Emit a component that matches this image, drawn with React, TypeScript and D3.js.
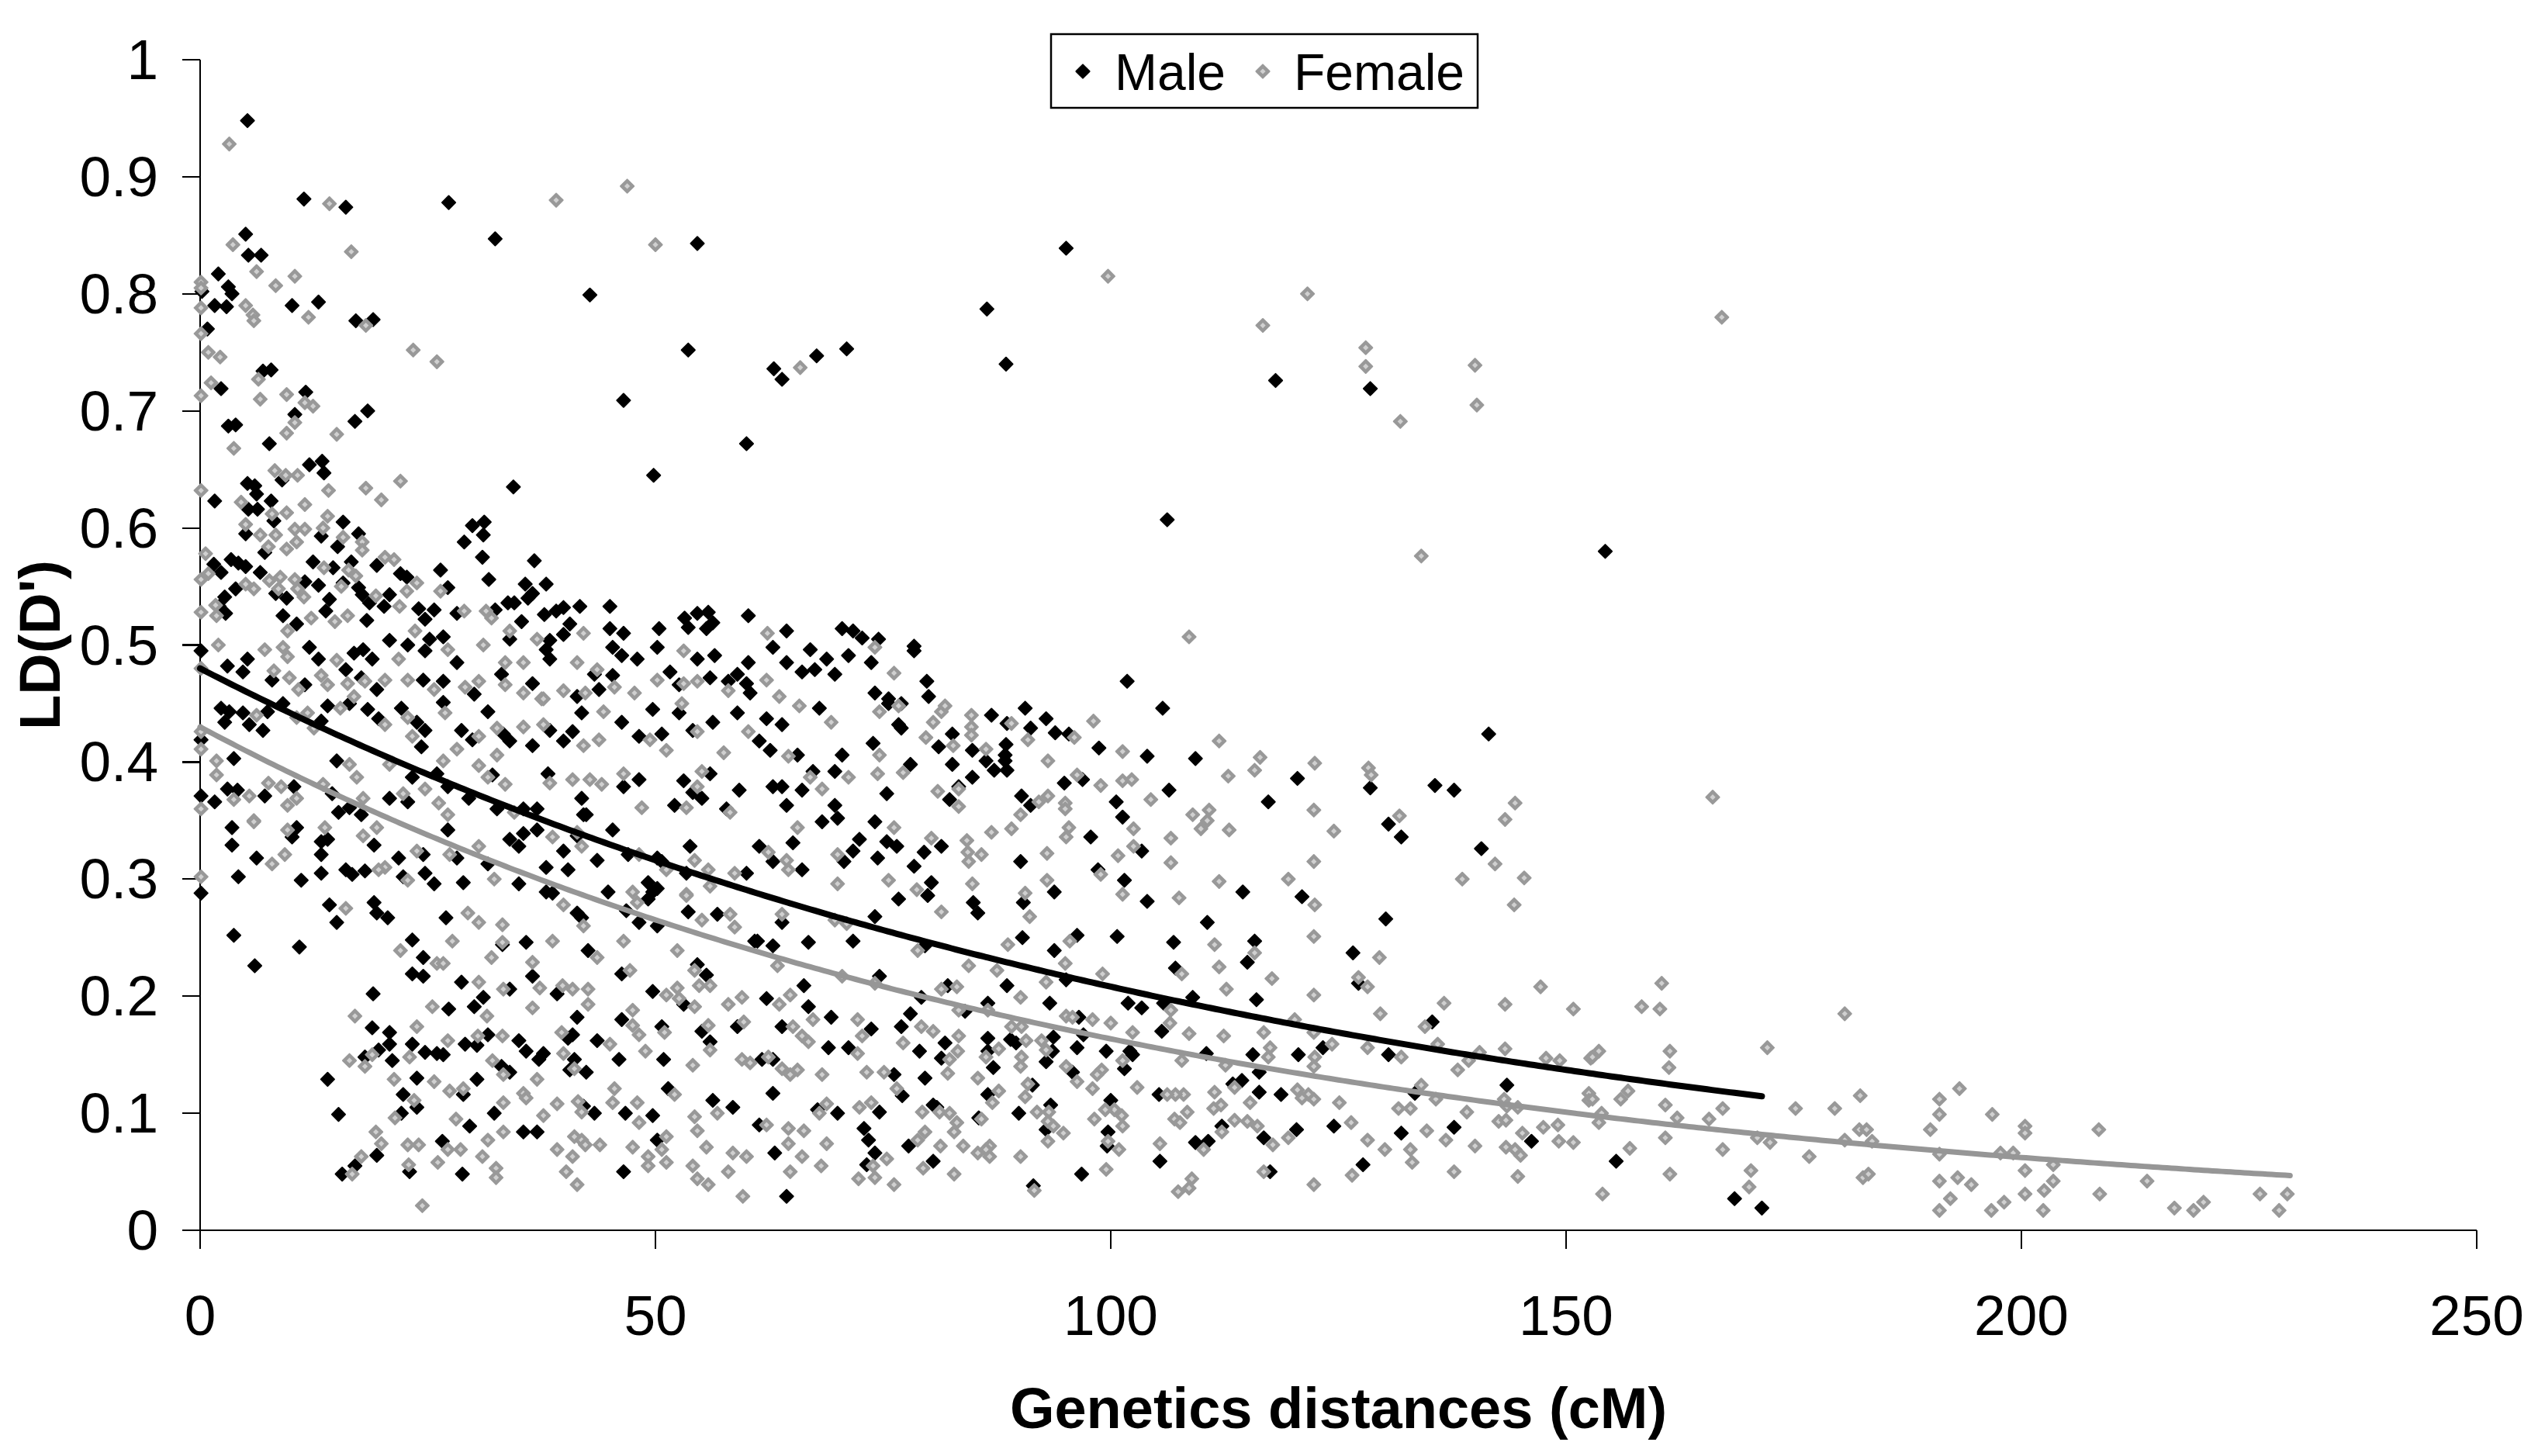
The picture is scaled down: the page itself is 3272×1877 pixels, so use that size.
import React from "react";
import * as d3 from "d3";

// ---------- DATA ----------
const xTicks = [0, 50, 100, 150, 200, 250];
const yTicks = [0, 0.1, 0.2, 0.3, 0.4, 0.5, 0.6, 0.7, 0.8, 0.9, 1];
const yTickLabels = ["0", "0.1", "0.2", "0.3", "0.4", "0.5", "0.6", "0.7", "0.8", "0.9", "1"];
const seriesNames = ["Male", "Female"];

// Fitted exponential trend lines  y = a * exp(-b x), drawn from 0 to xMax
const maleTrend = { a: 0.48, b: 0.008357, xMax: 171.5 };
const femaleTrend = { a: 0.43, b: 0.009667, xMax: 229.5 };

const malePoints: [number, number][] = [
[5.2,0.948],[11.4,0.881],[16.0,0.874],[27.3,0.878],[32.4,0.847],[54.6,0.843],[5.0,0.851],[5.3,0.833],[6.7,0.833],[2.0,0.817],[3.1,0.806],[3.5,0.80],[0.2,0.802],[1.6,0.79],[2.9,0.789],[10.1,0.79],[13.0,0.793],[17.1,0.777],[19.0,0.778],[42.8,0.799],[0.8,0.77],[53.6,0.752],[63.0,0.736],[63.9,0.727],[67.7,0.747],[71.0,0.753],[46.5,0.709],[6.9,0.734],[7.8,0.735],[2.3,0.719],[11.6,0.716],[10.4,0.697],[3.1,0.687],[3.9,0.688],[7.6,0.672],[17.0,0.691],[18.4,0.70],[60.0,0.672],[49.8,0.645],[34.4,0.635],[12.0,0.654],[13.4,0.657],[13.6,0.647],[9.0,0.641],[5.2,0.638],[6.0,0.636],[6.2,0.629],[1.6,0.623],[7.8,0.623],[5.3,0.616],[6.3,0.616],[8.1,0.606],[5.0,0.595],[13.3,0.593],[15.7,0.605],[17.4,0.595],[15.1,0.584],[7.1,0.579],[29.9,0.602],[31.2,0.605],[29.0,0.588],[31.1,0.594],[31.0,0.575],[36.7,0.572],[26.4,0.564],[31.7,0.556],[35.7,0.552],[38.0,0.552],[27.2,0.549],[19.4,0.568],[22.0,0.561],[22.7,0.558],[3.4,0.573],[4.2,0.57],[5.0,0.567],[1.5,0.569],[2.3,0.562],[6.6,0.562],[3.9,0.548],[12.4,0.571],[14.6,0.566],[16.6,0.571],[11.5,0.554],[13.0,0.551],[15.7,0.553],[17.4,0.549],[17.8,0.543],[2.7,0.541],[2.1,0.533],[2.8,0.527],[8.3,0.544],[9.5,0.54],[14.2,0.539],[18.6,0.536],[20.8,0.543],[20.2,0.533],[24.0,0.531],[25.7,0.53],[24.7,0.522],[28.2,0.527],[32.4,0.53],[33.8,0.536],[34.5,0.536],[36.0,0.54],[36.5,0.544],[35.3,0.52],[37.8,0.526],[39.1,0.529],[39.9,0.532],[41.7,0.533],[45.0,0.533],[40.6,0.518],[45.0,0.514],[46.5,0.51],[50.4,0.514],[53.2,0.523],[54.6,0.527],[55.8,0.528],[56.3,0.519],[60.2,0.525],[64.4,0.512],[70.5,0.514],[71.7,0.512],[72.7,0.506],[74.5,0.505],[53.6,0.515],[55.6,0.514],[9.1,0.525],[10.6,0.518],[13.8,0.529],[18.3,0.521],[20.8,0.504],[25.2,0.505],[26.7,0.507],[34.0,0.505],[38.4,0.504],[39.9,0.509],
[95.1,0.839],[86.4,0.787],[88.5,0.74],[118.1,0.726],[128.5,0.719],[106.2,0.607],[154.3,0.58],[78.4,0.499],
[0.1,0.495],[5.2,0.488],[12.0,0.498],[13.0,0.488],[16.9,0.493],[17.9,0.496],[18.9,0.488],[22.8,0.5],[24.7,0.495],[28.2,0.485],[38.0,0.496],[38.4,0.488],[45.3,0.498],[46.3,0.491],[48.0,0.488],[50.2,0.498],[54.6,0.488],[56.5,0.491],[60.2,0.485],[62.9,0.498],[64.4,0.485],[67.0,0.496],[68.8,0.488],[71.2,0.491],[73.7,0.485],
[3.0,0.482],[4.7,0.477],[7.9,0.47],[11.5,0.466],[16.0,0.479],[17.7,0.472],[19.4,0.462],[24.5,0.47],[26.7,0.469],[30.1,0.458],[33.1,0.475],[36.5,0.467],[41.4,0.456],[43.3,0.475],[43.8,0.462],[45.3,0.474],[51.6,0.477],[52.6,0.466],[56.0,0.472],[58.0,0.469],[59.0,0.475],[60.0,0.467],[60.4,0.459],[66.1,0.477],[67.5,0.479],[69.7,0.475],[74.1,0.459],[75.6,0.454],
[2.3,0.446],[3.2,0.443],[2.7,0.434],[0.1,0.419],[4.7,0.442],[5.4,0.432],[6.9,0.427],[7.4,0.443],[9.1,0.45],[13.3,0.435],[14.0,0.448],[16.4,0.45],[18.4,0.445],[19.6,0.437],[22.1,0.446],[23.8,0.434],[24.7,0.427],[24.3,0.413],[26.7,0.451],[28.7,0.427],[29.9,0.419],[31.6,0.443],[33.3,0.424],[34.0,0.418],[36.5,0.414],[38.4,0.427],[39.9,0.418],[40.9,0.426],[41.9,0.442],[46.3,0.434],[48.2,0.422],[50.7,0.424],[49.7,0.445],[52.6,0.442],[54.1,0.427],[56.3,0.434],[59.0,0.442],[62.2,0.437],[63.9,0.432],[68.0,0.446],[61.4,0.418],[62.6,0.41],[65.6,0.406],[75.6,0.45],[73.9,0.416],[70.5,0.406],
[3.7,0.403],[0.1,0.371],[1.6,0.366],[3.0,0.377],[4.1,0.376],[7.1,0.371],[10.3,0.379],[15.0,0.401],[14.5,0.373],[15.2,0.357],[16.4,0.361],[17.7,0.355],[20.8,0.369],[22.8,0.366],[23.3,0.387],[26.0,0.39],[27.2,0.379],[29.5,0.369],[32.1,0.389],[32.6,0.36],[35.5,0.36],[37.0,0.36],[38.2,0.39],[41.9,0.369],[42.4,0.355],[46.5,0.379],[48.2,0.385],[52.1,0.363],[53.1,0.384],[54.1,0.374],[55.1,0.369],[56.0,0.39],[57.8,0.36],[59.2,0.376],[62.9,0.379],[63.9,0.379],[64.4,0.363],[66.1,0.376],[67.3,0.392],[69.7,0.392],[69.7,0.363],[75.4,0.373],
[3.5,0.344],[3.5,0.329],[10.6,0.344],[10.1,0.336],[6.2,0.318],[4.2,0.302],[11.1,0.299],[13.3,0.332],[14.0,0.334],[13.3,0.321],[13.3,0.305],[16.0,0.308],[16.7,0.304],[19.1,0.329],[21.8,0.318],[18.1,0.307],[22.3,0.302],[24.7,0.305],[25.7,0.296],[24.5,0.321],[27.2,0.342],[28.2,0.318],[28.9,0.297],[31.6,0.313],[34.0,0.334],[35.0,0.328],[35.5,0.339],[37.0,0.342],[39.9,0.324],[41.4,0.337],[42.1,0.355],[43.6,0.316],[40.4,0.308],[38.0,0.31],[45.3,0.342],[47.0,0.321],[50.2,0.318],[50.7,0.315],[53.4,0.305],[53.8,0.328],[49.2,0.297],[50.2,0.292],[60.0,0.305],[61.4,0.328],[62.9,0.315],[65.1,0.331],[66.1,0.308],[70.7,0.315],[71.7,0.324],[72.4,0.334],[74.4,0.318],[74.1,0.349],[68.3,0.349],[70.0,0.352],[75.4,0.332],
[0.1,0.288],[14.2,0.278],[15.0,0.263],[19.1,0.28],[19.4,0.271],[20.6,0.267],[27.0,0.267],[35.0,0.296],[38.0,0.289],[38.7,0.288],[41.4,0.271],[41.9,0.267],[44.8,0.289],[46.8,0.273],[48.2,0.263],[50.2,0.26],[49.2,0.283],[49.7,0.289],[53.6,0.272],[56.8,0.27],[60.9,0.247],[63.9,0.263],[66.8,0.246],[71.7,0.247],[74.1,0.268],[3.7,0.252],[10.9,0.242],[6.0,0.226],[23.3,0.248],[24.5,0.233],[23.3,0.219],[24.5,0.217],[33.2,0.244],[35.8,0.246],[42.6,0.239],[54.6,0.227],[55.6,0.218],[61.2,0.247],[62.9,0.243],[66.3,0.209],[74.6,0.217],[46.3,0.219],[36.5,0.217],[39.2,0.202],[28.7,0.212],[34.0,0.206],
[19.0,0.202],[18.9,0.173],[20.8,0.169],[23.3,0.159],[20.8,0.159],[19.6,0.154],[18.1,0.148],[21.1,0.145],[24.7,0.152],[26.0,0.151],[26.7,0.15],[27.3,0.189],[30.1,0.191],[31.1,0.199],[29.1,0.159],[30.4,0.158],[31.6,0.167],[35.0,0.162],[35.8,0.153],[37.7,0.151],[37.2,0.146],[33.1,0.14],[34.0,0.135],[41.4,0.182],[40.4,0.164],[40.9,0.167],[43.6,0.162],[41.1,0.146],[40.6,0.137],[42.4,0.135],[46.0,0.146],[46.3,0.18],[49.7,0.204],[53.1,0.193],[59.0,0.174],[50.7,0.174],[55.1,0.17],[56.0,0.161],[50.9,0.146],[62.2,0.198],[66.8,0.191],[69.3,0.182],[63.9,0.174],[69.0,0.156],[71.2,0.156],[73.7,0.172],[62.9,0.146],[61.7,0.146],
[14.0,0.129],[15.2,0.099],[15.6,0.048],[17.0,0.055],[19.4,0.064],[22.1,0.10],[22.3,0.116],[23.8,0.105],[23.8,0.13],[23.0,0.05],[26.6,0.076],[28.8,0.048],[28.9,0.116],[30.4,0.129],[29.6,0.089],[32.3,0.10],[35.5,0.084],[37.0,0.084],[42.1,0.106],[43.3,0.10],[46.7,0.10],[46.5,0.05],[49.7,0.098],[50.2,0.077],[51.4,0.121],[56.3,0.111],[58.5,0.105],[61.4,0.09],[62.9,0.117],[63.1,0.066],[64.4,0.029],[67.8,0.103],[70.0,0.10],[74.6,0.101],[72.9,0.087],[73.4,0.077],[74.1,0.066],[73.2,0.056],
[78.4,0.495],[79.8,0.469],[80.0,0.456],[77.0,0.45],[76.7,0.432],[77.0,0.429],[81.1,0.413],[82.6,0.424],[78.0,0.398],[82.6,0.398],[83.3,0.379],[82.3,0.368],[84.8,0.41],[86.9,0.44],[84.8,0.387],[86.3,0.401],[87.2,0.393],[88.5,0.415],[88.4,0.406],[88.4,0.401],[88.6,0.393],[88.6,0.433],[90.6,0.446],[91.2,0.429],[92.9,0.437],[93.9,0.425],[95.4,0.424],[98.7,0.412],[94.9,0.382],[96.9,0.385],[90.2,0.371],[91.2,0.363],[76.5,0.328],[79.5,0.323],[78.4,0.311],[81.4,0.328],[80.3,0.297],[79.9,0.286],[76.7,0.283],[84.9,0.28],[85.4,0.271],[90.1,0.315],[90.4,0.28],[93.8,0.289],[97.8,0.336],[98.6,0.308],[101.5,0.299],[101.8,0.469],[105.7,0.446],[104.0,0.405],[100.6,0.366],[101.3,0.353],[106.4,0.376],[103.4,0.324],[104.0,0.281],[109.3,0.403],[114.5,0.289],[117.3,0.366],[120.5,0.386],[121.0,0.285],[110.6,0.263],[115.8,0.247],[115.0,0.229],[106.9,0.246],[107.1,0.224],[100.7,0.251],[96.3,0.252],[93.8,0.239],[90.3,0.25],[79.6,0.243],[82.1,0.209],[79.2,0.199],[88.6,0.209],[95.1,0.214],[101.9,0.194],[103.4,0.19],[93.3,0.194],[86.5,0.194],[84.0,0.187],[78.0,0.185],[77.0,0.174],[79.0,0.153],[81.8,0.16],[81.4,0.147],[79.6,0.13],[86.5,0.164],[86.5,0.153],[87.1,0.139],[89.0,0.163],[89.6,0.16],[93.7,0.165],[93.6,0.153],[92.9,0.144],[96.5,0.182],[95.8,0.135],[96.3,0.156],[97.0,0.167],[99.5,0.153],[101.5,0.138],[102.1,0.153],[102.4,0.15],[105.6,0.17],[105.8,0.194],[109.0,0.199],[110.5,0.151],[116.0,0.197],[115.6,0.15],[116.3,0.135],[120.6,0.15],[123.3,0.156],[126.6,0.237],[127.2,0.211],[130.2,0.266],[130.5,0.347],[131.9,0.336],[128.5,0.378],[135.6,0.38],[137.7,0.376],[141.5,0.424],[140.7,0.326],[135.3,0.178],[130.5,0.15],[143.5,0.124],[133.4,0.117],[137.7,0.088],[131.9,0.083],[146.2,0.076],[127.7,0.056],[124.5,0.089],[118.7,0.116],[120.4,0.086],[116.8,0.079],[117.5,0.05],[116.3,0.118],[114.4,0.128],[113.4,0.125],[112.2,0.089],[109.3,0.075],[110.7,0.076],[105.3,0.116],[105.4,0.059],[100.0,0.111],[99.7,0.084],[99.6,0.072],[96.8,0.048],[91.4,0.124],[86.5,0.116],[85.5,0.096],[89.9,0.10],[93.4,0.107],[92.9,0.086],[91.5,0.038],[80.5,0.059],[77.8,0.072],[80.5,0.107],[80.9,0.105],[77.1,0.115],[76.2,0.133],
[155.5,0.059],[168.5,0.027],[171.5,0.019]
];

const femalePoints: [number, number][] = [
[3.2,0.928],[14.2,0.877],[39.1,0.880],[46.9,0.892],[50.0,0.842],[3.6,0.842],[16.6,0.836],[6.2,0.819],[10.4,0.815],[8.3,0.807],[0.1,0.81],[0.1,0.805],[0.1,0.788],[5.0,0.79],[5.8,0.782],[5.9,0.777],[11.9,0.78],[18.2,0.773],[0.1,0.766],[0.9,0.75],[2.2,0.746],[23.4,0.752],[26.0,0.742],[65.9,0.737],[6.4,0.727],[1.2,0.724],[0.1,0.713],[6.6,0.71],[9.5,0.714],[11.5,0.707],[12.4,0.704],[10.4,0.69],[9.5,0.681],[3.7,0.668],[15.0,0.68],[8.2,0.649],[9.4,0.645],[10.7,0.645],[22.0,0.64],[18.2,0.634],[19.9,0.624],[14.1,0.632],[0.1,0.632],[4.5,0.622],[11.5,0.62],[7.9,0.612],[9.5,0.613],[5.0,0.603],[6.6,0.594],[8.3,0.594],[10.4,0.599],[11.5,0.599],[10.6,0.588],[14.0,0.61],[13.5,0.60],[15.7,0.592],[17.8,0.588],[17.8,0.581],[7.5,0.584],[9.5,0.582],[0.6,0.578],[26.4,0.546],[20.3,0.575],[21.3,0.573],[23.8,0.553],[0.9,0.561],[0.1,0.556],[5.0,0.552],[5.9,0.548],[13.6,0.566],[16.3,0.564],[17.1,0.559],[8.8,0.558],[7.6,0.555],[10.4,0.556],[8.6,0.548],[10.7,0.548],[15.5,0.55],[1.7,0.534],[0.1,0.528],[1.8,0.525],[11.4,0.541],[19.3,0.542],[21.9,0.533],[22.7,0.546],[29.0,0.529],[31.4,0.529],[32.0,0.523],[42.1,0.51],[62.3,0.51],[9.6,0.512],[12.2,0.523],[14.8,0.52],[16.2,0.525],[23.6,0.512],[34.0,0.512],[37.0,0.505],
[99.7,0.815],[121.6,0.80],[167.1,0.78],[116.7,0.773],[128.0,0.754],[128.0,0.738],[140.0,0.739],[140.2,0.705],[131.8,0.691],[134.1,0.576],[108.6,0.507],
[2.0,0.5],[7.1,0.496],[9.1,0.498],[9.6,0.49],[15.0,0.487],[21.8,0.488],[27.2,0.496],[31.1,0.5],[33.5,0.485],[35.5,0.485],[41.4,0.485],[53.1,0.495],[74.1,0.498],
[0.1,0.48],[8.1,0.478],[9.8,0.472],[10.8,0.462],[13.3,0.474],[14.0,0.466],[16.2,0.467],[18.1,0.469],[20.3,0.47],[22.8,0.47],[25.7,0.462],[29.1,0.464],[30.6,0.469],[33.5,0.466],[35.5,0.459],[37.5,0.454],[39.9,0.461],[42.3,0.459],[43.6,0.479],[45.5,0.464],[47.7,0.459],[50.2,0.47],[53.1,0.467],[54.6,0.469],[62.2,0.47],[58.0,0.461],[63.6,0.456],
[0.1,0.426],[0.1,0.411],[6.2,0.44],[10.6,0.438],[11.8,0.442],[12.5,0.429],[15.4,0.446],[16.9,0.456],[20.3,0.432],[22.8,0.438],[23.3,0.422],[26.9,0.442],[28.2,0.411],[30.6,0.422],[32.6,0.429],[32.6,0.406],[35.5,0.43],[37.7,0.454],[37.7,0.432],[42.1,0.414],[43.8,0.419],[44.3,0.443],[49.4,0.419],[51.2,0.41],[52.9,0.45],[54.6,0.426],[57.5,0.408],[60.2,0.426],[65.8,0.448],[69.3,0.434],[64.6,0.405],[74.6,0.443],[74.6,0.406],
[1.8,0.401],[1.8,0.389],[0.1,0.36],[3.7,0.368],[5.4,0.371],[5.9,0.35],[7.5,0.382],[8.9,0.379],[9.6,0.363],[10.6,0.369],[16.4,0.398],[17.2,0.387],[13.5,0.381],[17.9,0.369],[20.8,0.398],[22.3,0.373],[24.7,0.377],[26.7,0.401],[26.2,0.365],[27.2,0.355],[30.6,0.397],[31.6,0.387],[33.5,0.381],[34.5,0.357],[38.4,0.382],[40.9,0.385],[42.8,0.385],[44.1,0.381],[46.5,0.39],[48.5,0.361],[53.4,0.361],[54.6,0.379],[55.1,0.392],[58.2,0.357],[67.0,0.387],[68.3,0.377],[71.2,0.387],[74.4,0.39],
[5.9,0.349],[9.6,0.342],[9.3,0.321],[7.9,0.313],[13.7,0.344],[17.9,0.337],[19.4,0.344],[20.3,0.31],[19.6,0.308],[22.8,0.299],[23.8,0.324],[27.4,0.321],[30.6,0.328],[32.3,0.30],[38.7,0.336],[41.9,0.328],[41.4,0.34],[48.2,0.321],[51.2,0.308],[54.3,0.316],[55.8,0.308],[58.7,0.305],[62.4,0.323],[64.4,0.316],[64.6,0.308],[70.0,0.321],[65.6,0.344],[75.6,0.299],[70.0,0.296],[56.0,0.294],[53.4,0.287],
[0.1,0.302],[16.0,0.275],[29.4,0.271],[30.6,0.263],[39.9,0.278],[42.1,0.26],[47.5,0.289],[48.0,0.28],[53.4,0.286],[55.1,0.265],[58.2,0.27],[58.7,0.259],[63.9,0.27],[69.7,0.265],[71.0,0.262],[22.0,0.239],[27.7,0.247],[26.0,0.228],[26.7,0.228],[33.2,0.261],[33.2,0.246],[38.7,0.247],[32.0,0.233],[43.6,0.233],[36.5,0.229],[46.5,0.247],[52.4,0.239],[54.3,0.222],[63.4,0.226],[70.5,0.217],[74.1,0.211],[47.2,0.222],[33.3,0.206],[37.3,0.207],[39.8,0.209],[40.9,0.206],[42.6,0.206],[30.6,0.212],
[17.0,0.183],[23.8,0.174],[18.9,0.15],[16.4,0.145],[18.1,0.14],[23.0,0.148],[25.5,0.191],[31.5,0.183],[27.2,0.162],[30.5,0.166],[33.2,0.166],[32.1,0.145],[33.3,0.133],[36.5,0.19],[42.6,0.193],[39.7,0.169],[39.9,0.151],[41.1,0.138],[37.0,0.129],[45.0,0.159],[47.5,0.188],[47.5,0.175],[48.2,0.167],[48.9,0.153],[51.2,0.201],[52.4,0.207],[52.6,0.198],[54.3,0.191],[54.8,0.209],[56.0,0.209],[59.5,0.199],[58.0,0.193],[59.7,0.178],[51.0,0.169],[55.8,0.175],[56.0,0.154],[54.1,0.141],[63.6,0.193],[64.8,0.201],[67.3,0.18],[65.1,0.174],[66.1,0.166],[66.8,0.161],[72.2,0.18],[72.7,0.166],[72.2,0.151],[62.4,0.148],[63.9,0.138],[64.8,0.133],[65.6,0.137],[68.3,0.133],[73.2,0.135],[75.1,0.135],[59.5,0.146],[60.4,0.143],
[16.7,0.048],[17.7,0.063],[19.3,0.084],[19.9,0.074],[21.4,0.096],[23.5,0.111],[21.3,0.129],[25.7,0.127],[22.8,0.073],[24.0,0.073],[22.9,0.056],[24.4,0.021],[26.1,0.058],[27.2,0.069],[28.6,0.069],[27.4,0.119],[28.9,0.121],[28.1,0.095],[31.0,0.063],[31.6,0.077],[32.5,0.053],[32.5,0.045],[33.3,0.109],[33.3,0.084],[35.5,0.117],[35.8,0.113],[37.7,0.098],[39.2,0.108],[39.2,0.069],[40.2,0.05],[40.9,0.063],[41.1,0.08],[41.9,0.077],[42.3,0.073],[41.4,0.039],[41.5,0.11],[41.9,0.101],[43.9,0.073],[45.3,0.109],[45.5,0.121],[48.0,0.109],[48.2,0.092],[47.5,0.071],[49.2,0.063],[49.2,0.055],[50.7,0.069],[51.2,0.08],[51.2,0.058],[52.1,0.116],[54.3,0.097],[54.6,0.085],[54.1,0.055],[54.6,0.044],[55.8,0.039],[55.6,0.071],[56.8,0.10],[60.0,0.063],[58.5,0.066],[58.0,0.05],[59.6,0.029],[62.2,0.09],[64.6,0.087],[64.6,0.074],[66.3,0.085],[66.1,0.063],[64.8,0.05],[68.0,0.10],[68.8,0.108],[68.8,0.074],[68.2,0.055],[72.4,0.105],[73.7,0.109],[73.9,0.055],[74.1,0.045],[72.3,0.044],[75.4,0.061],
[76.2,0.476],[76.7,0.448],[81.4,0.443],[81.8,0.448],[80.5,0.434],[79.7,0.421],[82.7,0.414],[77.2,0.391],[83.3,0.377],[81.0,0.375],[83.3,0.362],[84.7,0.44],[84.7,0.43],[84.7,0.423],[86.3,0.411],[89.1,0.433],[90.9,0.419],[96.0,0.421],[98.1,0.435],[93.1,0.401],[96.3,0.389],[98.9,0.38],[92.1,0.366],[93.1,0.371],[95.0,0.365],[95.0,0.36],[90.1,0.355],[89.1,0.343],[86.9,0.34],[76.2,0.344],[80.3,0.335],[84.2,0.333],[84.3,0.323],[84.4,0.315],[85.8,0.321],[78.7,0.291],[81.4,0.272],[84.8,0.296],[90.6,0.288],[91.1,0.268],[93.0,0.322],[93.0,0.299],[95.4,0.344],[95.1,0.336],[98.9,0.304],[100.8,0.32],[101.3,0.287],[101.3,0.409],[101.3,0.384],[102.3,0.385],[102.5,0.343],[104.4,0.368],[106.6,0.335],[102.5,0.328],[106.6,0.314],[107.5,0.284],[111.9,0.418],[109.0,0.355],[110.8,0.359],[110.6,0.35],[109.9,0.343],[113.0,0.342],[112.9,0.388],[115.8,0.393],[116.4,0.404],[111.9,0.298],[122.4,0.399],[122.3,0.359],[124.5,0.341],[122.3,0.315],[119.5,0.30],[122.4,0.278],[122.3,0.251],[111.4,0.244],[115.8,0.237],[111.9,0.225],[107.8,0.219],[95.5,0.247],[95.0,0.228],[88.7,0.244],[87.5,0.222],[84.4,0.226],[78.8,0.239],[83.1,0.208],[81.4,0.206],[90.1,0.199],[92.9,0.212],[99.1,0.219],[83.3,0.188],[86.5,0.188],[79.2,0.174],[80.5,0.17],[77.2,0.16],[83.3,0.166],[83.2,0.153],[82.3,0.146],[82.1,0.134],[85.4,0.13],[86.3,0.148],[87.7,0.155],[89.1,0.174],[90.2,0.174],[90.7,0.162],[90.2,0.148],[90.1,0.14],[92.4,0.162],[92.9,0.154],[95.1,0.183],[95.8,0.182],[95.1,0.14],[98.0,0.18],[100.0,0.177],[99.0,0.137],[98.5,0.133],[101.3,0.145],[102.4,0.169],[106.5,0.177],[106.6,0.188],[108.6,0.168],[107.8,0.145],[112.6,0.141],[112.4,0.166],[112.7,0.206],[116.8,0.169],[117.5,0.156],[117.3,0.148],[120.2,0.18],[122.3,0.169],[122.4,0.148],[122.3,0.14],[124.3,0.159],[117.7,0.215],[122.3,0.201],[129.5,0.233],[127.2,0.216],[128.2,0.208],[129.6,0.185],[131.7,0.354],[128.3,0.395],[128.6,0.389],[144.4,0.365],[143.3,0.351],[142.2,0.313],[138.6,0.30],[145.4,0.301],[144.3,0.278],[136.6,0.194],[134.5,0.174],[135.9,0.159],[131.9,0.148],[128.2,0.156],[138.1,0.137],[139.3,0.145],[140.5,0.152],[143.3,0.193],[143.3,0.155],[147.2,0.208],[150.8,0.189],[147.8,0.147],[149.3,0.145],[152.7,0.147],[134.1,0.124],[135.7,0.112],[139.1,0.101],[143.2,0.112],[143.5,0.106],[144.7,0.105],[134.7,0.085],[132.9,0.069],[133.1,0.058],[136.8,0.077],[140.0,0.072],[145.2,0.083],[143.4,0.071],[144.4,0.069],[145.0,0.064],[147.5,0.088],[149.1,0.09],[149.2,0.076],[150.8,0.075],[137.7,0.05],[144.7,0.046],[126.5,0.047],[128.2,0.077],[130.1,0.069],[131.6,0.104],[132.9,0.104],[125.1,0.109],[126.4,0.092],[120.5,0.12],[121.7,0.116],[122.3,0.112],[121.0,0.113],[119.5,0.079],[117.8,0.073],[116.8,0.05],[122.3,0.039],[115.3,0.109],[116.1,0.089],[115.0,0.093],[113.6,0.122],[113.6,0.094],[112.2,0.084],[111.4,0.118],[112.1,0.107],[111.3,0.104],[110.2,0.069],[108.9,0.044],[107.4,0.033],[108.6,0.036],[108.0,0.116],[107.1,0.116],[106.2,0.116],[108.4,0.101],[107.0,0.095],[107.6,0.092],[105.4,0.074],[100.4,0.103],[99.4,0.103],[101.2,0.098],[101.3,0.089],[98.2,0.095],[99.7,0.076],[100.9,0.069],[99.5,0.052],[96.3,0.127],[98.0,0.121],[102.9,0.122],[90.9,0.125],[90.6,0.114],[87.7,0.119],[87.0,0.109],[85.8,0.095],[91.9,0.101],[93.2,0.101],[93.1,0.093],[93.7,0.089],[94.8,0.083],[93.1,0.076],[90.1,0.063],[91.6,0.034],[86.7,0.072],[86.3,0.069],[85.4,0.066],[86.7,0.063],[83.8,0.072],[82.8,0.048],[79.4,0.053],[81.3,0.072],[78.8,0.077],[79.6,0.084],[76.2,0.039],[79.3,0.101],[81.2,0.101],[82.3,0.10],[83.1,0.092],[82.8,0.084],[76.5,0.121],[152.5,0.117],[152.5,0.111],[142.6,0.093],[143.4,0.094],
[166.1,0.37],[160.5,0.211],[158.3,0.191],[160.3,0.189],[180.6,0.185],[153.6,0.153],[152.9,0.148],[161.4,0.153],[172.1,0.156],[161.3,0.139],[152.9,0.112],[156.0,0.112],[156.8,0.119],[160.9,0.107],[167.2,0.104],[175.2,0.104],[179.5,0.104],[182.3,0.115],[191.0,0.112],[193.2,0.121],[191.0,0.099],[196.8,0.099],[153.9,0.10],[153.6,0.092],[162.2,0.096],[165.7,0.095],[160.9,0.079],[171.0,0.079],[172.4,0.075],[180.6,0.077],[182.2,0.086],[183.0,0.086],[183.6,0.076],[190.0,0.086],[200.4,0.089],[200.4,0.083],[208.5,0.086],[157.0,0.07],[167.2,0.069],[176.7,0.063],[191.0,0.065],[197.7,0.066],[199.1,0.066],[203.5,0.056],[161.4,0.048],[170.3,0.051],[170.1,0.037],[154.0,0.031],[182.6,0.045],[183.2,0.048],[191.0,0.042],[193.0,0.045],[194.5,0.039],[200.4,0.051],[200.4,0.031],[203.5,0.042],[202.5,0.034],[192.2,0.027],[191.0,0.017],[196.7,0.017],[198.1,0.024],[202.4,0.017],[208.6,0.031],[213.8,0.042],[216.8,0.019],[218.9,0.017],[220.0,0.024],[226.2,0.031],[228.3,0.017],[229.2,0.031]
];

// ---------- LAYOUT ----------
const W = 3272;
const H = 1877;
const PLOT = { left: 258, right: 3193, top: 77, bottom: 1586 };
const FONT = "'Liberation Sans', Arial, Helvetica, sans-serif";
const R = 8.6; // marker half-diagonal (plus a rounded stroke)

const diamond = (r: number) => `M0,${-r}L${r},0L0,${r}L${-r},0Z`;

export default function App() {
  const x = d3.scaleLinear().domain([0, 250]).range([PLOT.left, PLOT.right]);
  const y = d3.scaleLinear().domain([0, 1]).range([PLOT.bottom, PLOT.top]);

  const trendPath = (t: { a: number; b: number; xMax: number }) => {
    const xs = d3.range(0, t.xMax, 0.5).concat([t.xMax]);
    return d3
      .line<number>()
      .x((v) => x(v))
      .y((v) => y(t.a * Math.exp(-t.b * v)))(xs) as string;
  };

  const maleMarker = (cx: number, cy: number, key: React.Key) => (
    <path
      key={key}
      d={diamond(R)}
      transform={`translate(${cx},${cy})`}
      fill="#000"
      stroke="#000"
      strokeWidth={2}
      strokeLinejoin="round"
    />
  );
  const femaleMarker = (cx: number, cy: number, key: React.Key) => (
    <g key={key} transform={`translate(${cx},${cy})`}>
      <path d={diamond(R)} fill="#999999" stroke="#999999" strokeWidth={2} strokeLinejoin="round" />
      <path d={diamond(3.6)} fill="#d0d0d0" />
    </g>
  );

  return (
    <svg
      width={W}
      height={H}
      viewBox={`0 0 ${W} ${H}`}
      style={{ position: "absolute", left: 0, top: 0, background: "#fff", display: "block" }}
    >
      <rect x={0} y={0} width={W} height={H} fill="#fff" />

      {/* axes */}
      <g stroke="#000" strokeWidth={2.2} fill="none" shapeRendering="crispEdges">
        <line x1={PLOT.left} y1={PLOT.top} x2={PLOT.left} y2={PLOT.bottom + 24} />
        <line x1={PLOT.left - 23} y1={PLOT.bottom} x2={PLOT.right} y2={PLOT.bottom} />
        {yTicks.map((t) => (
          <line key={"yt" + t} x1={PLOT.left - 23} y1={y(t)} x2={PLOT.left} y2={y(t)} />
        ))}
        {xTicks.map((t) => (
          <line key={"xt" + t} x1={x(t)} y1={PLOT.bottom} x2={x(t)} y2={PLOT.bottom + 24} />
        ))}
      </g>

      {/* tick labels */}
      <g fontFamily={FONT} fontSize={73} fill="#000">
        {yTicks.map((t, i) => (
          <text key={"yl" + t} x={204} y={y(t) + 25} textAnchor="end">
            {yTickLabels[i]}
          </text>
        ))}
        {xTicks.map((t) => (
          <text key={"xl" + t} x={x(t)} y={1721} textAnchor="middle">
            {String(t)}
          </text>
        ))}
      </g>

      {/* axis titles */}
      <text
        x={(PLOT.left + PLOT.right) / 2}
        y={1841}
        textAnchor="middle"
        fontFamily={FONT}
        fontWeight="bold"
        fontSize={74}
      >
        Genetics distances (cM)
      </text>
      <text
        transform={`translate(77,${(PLOT.top + PLOT.bottom) / 2}) rotate(-90)`}
        textAnchor="middle"
        fontFamily={FONT}
        fontWeight="bold"
        fontSize={74}
      >
        LD(D')
      </text>

      {/* points */}
      <g>{malePoints.map(([px, py], i) => maleMarker(x(px), y(py), "m" + i))}</g>
      <g>{femalePoints.map(([px, py], i) => femaleMarker(x(px), y(py), "f" + i))}</g>

      {/* trend lines */}
      <path d={trendPath(maleTrend)} fill="none" stroke="#000" strokeWidth={8} strokeLinecap="round" />
      <path d={trendPath(femaleTrend)} fill="none" stroke="#969696" strokeWidth={7} strokeLinecap="round" />

      {/* legend */}
      <g>
        <rect x={1355} y={44} width={550} height={95} fill="#fff" stroke="#000" strokeWidth={2.5} />
        {maleMarker(1396, 92, "lm")}
        <text x={1437} y={116} fontFamily={FONT} fontSize={66}>
          {seriesNames[0]}
        </text>
        {femaleMarker(1628, 92, "lf")}
        <text x={1668} y={116} fontFamily={FONT} fontSize={66}>
          {seriesNames[1]}
        </text>
      </g>
    </svg>
  );
}
